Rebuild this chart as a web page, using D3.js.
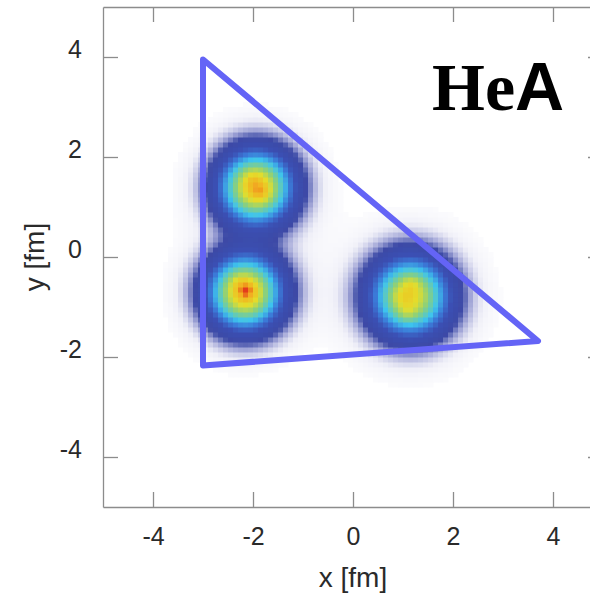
<!DOCTYPE html>
<html lang="en">
    <head>
        <title>HeA density</title>
        <meta charset="utf-8">
        <script src="https://d3js.org/d3.v7.min.js"></script>
        <style>
            body {
                margin: 0;
                padding: 0;
                background-color: white;
                overflow: hidden;
            }
            .tick text {
                font-family: "Liberation Sans", Arial, sans-serif;
            }
        </style>
    </head>
    <body>
    <div id="container"></div>
    <script>
        // nucleon blobs (fm)
        const nucleonX = [-1.94, -2.16, 1.14];
        const nucleonY = [1.40, -0.70, -0.78];
        const nucleonPeak = [0.84, 0.86, 0.76];
        const nucleonSigma = [0.46, 0.46, 0.49];
        const haloAmp = [0.02, 0.02, 0.025];
        const haloSigma = [0.85, 0.85, 0.9];

        // small hot spots inside the blobs
        const spotX = [-1.84, -2.02, -2.12, -2.28, 1.16, 1.08, 0.94];
        const spotY = [1.30, 1.56, -0.66, -0.50, -0.52, -1.10, -0.80];
        const spotAmp = [0.09, 0.06, 0.10, 0.05, 0.08, 0.08, 0.05];

        // triangle overlay
        const triX = [-3.0, 3.7, -3.0];
        const triY = [3.95, -1.68, -2.17];

        const ticks = [-4, -2, 0, 2, 4];

        const colorStops = [0, 0.015, 0.045, 0.085, 0.20, 0.30, 0.42, 0.60, 0.76, 0.92, 1.0];
        const colorRange = ["#ffffff", "#f0f0f8", "#a4a8d8", "#3c4aa6", "#3a50b4", "#3a7ad8",
                            "#3ec4ee", "#8cd07a", "#e4de2c", "#f2b020", "#e0281c"];

        const w = 590;
        const h = 597;
        const plotLeft = 103, plotTop = 7, size = 500;
        const cell = 0.1;

        const x = d3.scaleLinear().domain([-5, 5]).range([plotLeft, plotLeft + size]);
        const y = d3.scaleLinear().domain([-5, 5]).range([plotTop + size, plotTop]);
        const color = d3.scaleLinear().domain(colorStops).range(colorRange).clamp(true);

        const svg = d3.select("#container")
            .append("svg")
            .attr("width", w)
            .attr("height", h);

        svg.append("defs").append("filter")
            .attr("id", "soft")
            .append("feGaussianBlur")
            .attr("stdDeviation", 0.7);

        // build density grid from the blobs
        const cells = [];
        for (let i = 0; i < 100; i++) {
            for (let j = 0; j < 100; j++) {
                const cx = -5 + (i + 0.5) * cell;
                const cy = -5 + (j + 0.5) * cell;
                let v = 0;
                nucleonX.forEach((nx, k) => {
                    const r2 = (cx - nx) ** 2 + (cy - nucleonY[k]) ** 2;
                    v += nucleonPeak[k] * Math.exp(-r2 / (2 * nucleonSigma[k] ** 2));
                    v += haloAmp[k] * Math.exp(-r2 / (2 * haloSigma[k] ** 2));
                });
                spotX.forEach((sx, k) => {
                    const r2 = (cx - sx) ** 2 + (cy - spotY[k]) ** 2;
                    v += spotAmp[k] * Math.exp(-r2 / (2 * 0.13 ** 2));
                });
                if (v > 0.004) cells.push({x0: cx - cell / 2, y0: cy + cell / 2, v: v});
            }
        }

        svg.append("g")
            .attr("filter", "url(#soft)")
            .selectAll("rect")
            .data(cells)
            .enter()
            .append("rect")
            .attr("x", d => x(d.x0))
            .attr("y", d => y(d.y0))
            .attr("width", x(cell) - x(0) + 0.5)
            .attr("height", y(0) - y(cell) + 0.5)
            .attr("fill", d => color(d.v));

        // axes box with inward ticks
        const axisColor = "#8c8c8c";
        const fmt = d => String(d);
        const styleAxis = g => {
            g.selectAll("path, line").attr("stroke", axisColor).attr("stroke-width", 1.3);
            g.selectAll("text").attr("fill", "#2a2a2a").attr("font-size", 25);
        };

        svg.append("g")
            .attr("transform", `translate(0, ${plotTop + size})`)
            .call(d3.axisBottom(x).tickValues(ticks).tickSize(-15).tickSizeOuter(0).tickFormat(fmt))
            .call(styleAxis)
            .call(g => g.selectAll("text").attr("y", 38).attr("dy", 0));

        svg.append("g")
            .attr("transform", `translate(0, ${plotTop})`)
            .call(d3.axisTop(x).tickValues(ticks).tickSize(-15).tickSizeOuter(0).tickFormat(""))
            .call(styleAxis);

        svg.append("g")
            .attr("transform", `translate(${plotLeft}, 0)`)
            .call(d3.axisLeft(y).tickValues(ticks).tickSize(-15).tickSizeOuter(0).tickFormat(fmt))
            .call(styleAxis)
            .call(g => g.selectAll("text").attr("x", -21).attr("dy", 0));

        svg.append("g")
            .attr("transform", `translate(${plotLeft + size}, 0)`)
            .call(d3.axisRight(y).tickValues(ticks).tickSize(-15).tickSizeOuter(0).tickFormat(""))
            .call(styleAxis);

        svg.append("text")
            .attr("x", x(0))
            .attr("y", 587)
            .attr("text-anchor", "middle")
            .attr("font-family", "Liberation Sans, Arial, sans-serif")
            .attr("font-size", 28)
            .attr("fill", "#2a2a2a")
            .text("x [fm]");

        svg.append("text")
            .attr("transform", `translate(44, ${y(0)}) rotate(-90)`)
            .attr("text-anchor", "middle")
            .attr("font-family", "Liberation Sans, Arial, sans-serif")
            .attr("font-size", 28)
            .attr("fill", "#2a2a2a")
            .text("y [fm]");

        // triangle
        const line = d3.line().x(d => x(d[0])).y(d => y(d[1]));
        svg.append("path")
            .attr("d", line(triX.map((v, i) => [v, triY[i]])) + "Z")
            .attr("fill", "none")
            .attr("stroke", "#6464f6")
            .attr("stroke-width", 6)
            .attr("stroke-linejoin", "round");

        // label
        const label = svg.append("text")
            .attr("x", 432)
            .attr("y", 110)
            .attr("font-size", 68)
            .attr("font-weight", "bold")
            .attr("fill", "black");
        label.append("tspan")
            .attr("font-family", "Liberation Serif, Times New Roman, serif")
            .text("He");
        label.append("tspan")
            .attr("font-family", "Liberation Sans, Arial, sans-serif")
            .text("A");
    </script>
    </body>
</html>
